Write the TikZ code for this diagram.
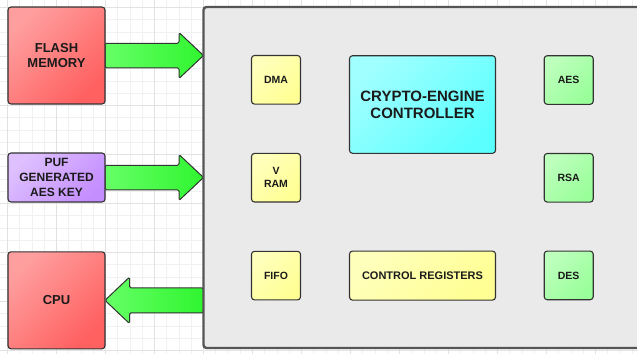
\documentclass[tikz,border=0pt]{standalone}
\usepackage{fontspec}
\setmainfont{Liberation Sans}
\pgfdeclarelayer{bg}
\pgfdeclarelayer{arrows}
\pgfsetlayers{bg,arrows,main}

\definecolor{gridminor}{HTML}{F1F1F1}
\definecolor{gridmajor}{HTML}{E2E2E2}
\definecolor{edge}{HTML}{333333}
\definecolor{coreedge}{HTML}{555555}
\definecolor{corefill}{HTML}{EAEAEA}
\definecolor{redA}{HTML}{FF9E9E}
\definecolor{redB}{HTML}{FF6060}
\definecolor{purA}{HTML}{DEC0FF}
\definecolor{purB}{HTML}{C48EFF}
\definecolor{yelA}{HTML}{FFFFBC}
\definecolor{yelB}{HTML}{FFFF94}
\definecolor{cyaA}{HTML}{A0FFFF}
\definecolor{cyaB}{HTML}{5CFFFF}
\definecolor{grnA}{HTML}{BDFFBD}
\definecolor{grnB}{HTML}{99FF99}
\definecolor{arrA}{HTML}{66FF66}
\definecolor{arrB}{HTML}{30F530}
\definecolor{ink}{HTML}{1A1A1A}

\tikzset{
  blk/.style={draw=edge, line width=1.1pt, rounded corners=3pt, outer sep=0pt,
    inner sep=0pt, align=center, text=ink},
  redbox/.style={blk, top color=redA, bottom color=redB, shading angle=45,
    minimum width=97pt, minimum height=97pt},
  purbox/.style={blk, top color=purA, bottom color=purB, shading angle=45,
    minimum width=97pt, minimum height=49pt},
  yelbox/.style={blk, top color=yelA, bottom color=yelB, shading angle=45},
  smallbox/.style={minimum width=49pt, minimum height=48.6pt,
    font=\fontsize{10.5}{13}\selectfont\bfseries},
  grnbox/.style={blk, top color=grnA, bottom color=grnB, shading angle=45, smallbox},
  cyabox/.style={blk, top color=cyaA, bottom color=cyaB, shading angle=45},
  bigarrow/.style={draw=edge, line width=1pt, rounded corners=1.5pt,
    left color=arrA, right color=arrB},
}

\begin{document}
\begin{tikzpicture}[x=1pt, y=-1pt]
\path[use as bounding box] (0,0) rectangle (637,354);

% background grid
\begin{pgfonlayer}{bg}
  \fill[white] (0,0) rectangle (637,354);
  \foreach \k in {0,...,51}
    \draw[gridminor, line width=0.8pt] ({7.5+12.25*\k},0) -- ++(0,354);
  \foreach \k in {0,...,28}
    \draw[gridminor, line width=0.8pt] (0,{7.5+12.25*\k}) -- ++(637,0);
  \foreach \k in {0,...,12}
    \draw[gridmajor, line width=0.8pt] ({7.5+49*\k},0) -- ++(0,354);
  \foreach \k in {0,...,7}
    \draw[gridmajor, line width=0.8pt] (0,{7.5+49*\k}) -- ++(637,0);
\end{pgfonlayer}

% outside blocks
\node[redbox, font=\fontsize{13}{15.6}\selectfont\bfseries] (flash) at (56.5,55.5) {FLASH\\MEMORY};
\node[purbox, font=\fontsize{12}{15}\selectfont\bfseries] (puf) at (56.5,177.5) {PUF\\GENERATED\\AES KEY};
\node[redbox, font=\fontsize{13}{15.6}\selectfont\bfseries] (cpu) at (56.5,300.3) {CPU};

% crypto engine body
\node[draw=coreedge, fill=corefill, line width=2.4pt, rounded corners=3pt,
  outer sep=0pt, minimum width=442pt, minimum height=341pt, anchor=north west]
  (core) at (203.5,7) {};

% inner blocks
\node[yelbox, smallbox] (dma) at (276,79.8) {DMA};
\node[yelbox, smallbox] (vram) at (276,177.7) {V\\RAM};
\node[yelbox, smallbox] (fifo) at (276,275.6) {FIFO};
\node[cyabox, minimum width=146pt, minimum height=97.6pt,
  font=\fontsize{15}{17}\selectfont\bfseries] (ctrl) at (422.5,104.5) {CRYPTO-ENGINE\\CONTROLLER};
\node[yelbox, minimum width=146pt, minimum height=49pt,
  font=\fontsize{11}{13}\selectfont\bfseries] (regs) at (422.5,275.6) {CONTROL REGISTERS};
\node[grnbox] (aes) at (568.7,80) {AES};
\node[grnbox] (rsa) at (568.7,177.8) {RSA};
\node[grnbox] (des) at (568.7,275.4) {DES};

% block arrows
\begin{pgfonlayer}{arrows}
  \draw[bigarrow] (flash.east) ++(0,-12.25) -- ++(74,0) -- ++(0,-10.75)
    -- (core.west |- flash.east) -- ++(-24.5,23) -- ++(0,-10.75) -- ++(-74,0) -- cycle;
  \draw[bigarrow] (puf.east) ++(0,-12.25) -- ++(74,0) -- ++(0,-10.75)
    -- (core.west |- puf.east) -- ++(-24.5,23) -- ++(0,-10.75) -- ++(-74,0) -- cycle;
  \draw[bigarrow] (core.west |- cpu.east) ++(0,-12.5) -- ++(-74,0) -- ++(0,-10.75)
    -- (cpu.east) -- ++(24.5,23.25) -- ++(0,-10.75) -- ++(74,0) -- cycle;
\end{pgfonlayer}
\end{tikzpicture}
\end{document}
